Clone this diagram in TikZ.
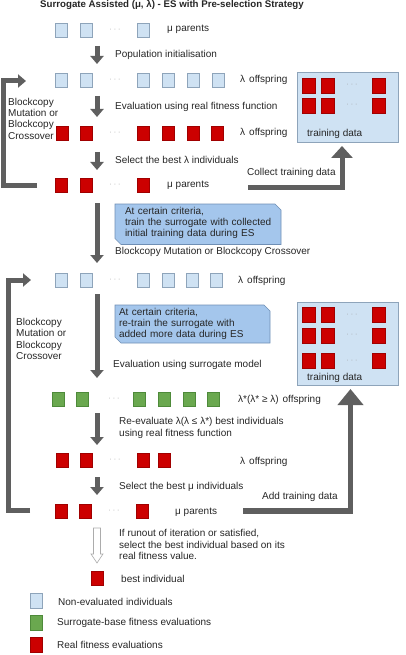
\documentclass[tikz,border=0pt]{standalone}
\usepackage{fontspec}
\setmainfont{Liberation Sans}
\usetikzlibrary{arrows.meta,backgrounds}
\definecolor{lb}{HTML}{CFE2F3}
\definecolor{lbb}{HTML}{8EA4BA}
\definecolor{rd}{HTML}{CC0000}
\definecolor{rdb}{HTML}{A00000}
\definecolor{gn}{HTML}{6AA84F}
\definecolor{gnb}{HTML}{4E8A3A}
\definecolor{ag}{HTML}{5F5F5F}
\definecolor{cb}{HTML}{A4C6EC}
\definecolor{cbb}{HTML}{6F8FB5}
\definecolor{tx}{HTML}{262626}
\begin{document}
\begin{tikzpicture}[x=1pt,y=-1pt,
  font=\fontsize{10}{11.3}\selectfont,
  sq/.style={minimum width=12pt,minimum height=14pt,inner sep=0pt,line width=0.6pt},
  nev/.style={sq,fill=lb,draw=lbb},
  rev/.style={sq,fill=rd,draw=rdb},
  sev/.style={sq,fill=gn,draw=gnb},
  tsq/.style={rev,minimum width=13pt,minimum height=15pt},
  lsq/.style={minimum width=12pt,minimum height=15pt,inner sep=0pt,line width=0.6pt},
  dts/.style={text=gray!75,font=\fontsize{7}{7}\selectfont,inner sep=0pt},
  lbl/.style={anchor=west,inner sep=0pt,text=tx,align=left},
  flow/.style={draw=ag,line width=5pt,-{Triangle[length=8pt,width=13pt]}},
  loopar/.style={draw=ag,line width=5pt,-{Triangle[length=8pt,width=13pt]}},
  tdbox/.style={fill=lb,draw=lbb,line width=0.7pt,minimum width=101pt,inner sep=0pt},
  callout/.style={fill=cb,draw=cbb,line width=0.6pt},
  ctext/.style={inner sep=0pt,text=tx,align=left,text width=150pt},
]
\useasboundingbox (0,0) rectangle (406,655);

% title
\node[inner sep=0pt,text=tx,font=\fontsize{9.7}{11}\selectfont\bfseries] (title) at (172,5)
  {Surrogate Assisted (μ, λ) - ES with Pre-selection Strategy};

% row 1: mu parents (non-evaluated)
\foreach \x [count=\i] in {61,86,143} \node[nev] (ra\i) at (\x,30) {};
\node[dts] (rad) at (115,30) {· · ·};
\node[lbl] (ta) at (167,29) {μ parents};

% row 2: lambda offspring (non-evaluated)
\foreach \x [count=\i] in {61,86,143,168,193,218} \node[nev] (rb\i) at (\x,80) {};
\node[dts] (rbd) at (115,80) {· · ·};
\node[lbl] (tb) at (240,80) {λ\hspace{4pt}offspring};

% row 3: lambda offspring (evaluated)
\foreach \x [count=\i] in {62,86,143.5,168,193,217} \node[rev] (rc\i) at (\x,133.5) {};
\node[dts] (rcd) at (115,133.5) {· · ·};
\node[lbl] (tc) at (240,133) {λ\hspace{4pt}offspring};

% row 4: mu parents (evaluated)
\foreach \x [count=\i] in {61,86,143} \node[rev] (rd\i) at (\x,185) {};
\node[dts] (rdd) at (115,185) {· · ·};
\node[lbl] (td) at (167,185) {μ parents};

% row 5
\foreach \x [count=\i] in {61,86,143,168,192,216} \node[nev] (re\i) at (\x,280.5) {};
\node[dts] (red) at (115,280.5) {· · ·};
\node[lbl] (te) at (238,281) {λ\hspace{4pt}offspring};

% row 6 (surrogate)
\foreach \x [count=\i] in {58,82.5,139,164,189,213} \node[sev] (rf\i) at (\x,399.5) {};
\node[dts] (rfd) at (114,399.5) {· · ·};
\node[lbl] (tf) at (238,400) {λ*(λ* ≥ λ)\hspace{4pt}offspring};

% row 7
\foreach \x [count=\i] in {62,86,143,164} \node[rev] (rg\i) at (\x,460.5) {};
\node[dts] (rgd) at (115,460.5) {· · ·};
\node[lbl] (tg) at (240,462) {λ\hspace{4pt}offspring};

% row 8
\foreach \x [count=\i] in {61,85,142} \node[rev] (rh\i) at (\x,511) {};
\node[dts] (rhd) at (114,511) {· · ·};
\node[lbl] (th) at (175,512) {μ parents};

% step labels
\node[lbl] (s1) at (115,55) {Population initialisation};
\node[lbl] (s2) at (115,107) {Evaluation using real fitness function};
\node[lbl] (s3) at (115,160) {Select the best λ individuals};
\node[lbl] (s4) at (115,252) {Blockcopy Mutation or Blockcopy Crossover};
\node[lbl] (s5) at (113,365) {Evaluation using surrogate model};
\node[lbl] (s6) at (119,428) {Re-evaluate λ(λ ≤ λ*) best individuals\\using real fitness function};
\node[lbl] (s7) at (119,487) {Select the best μ individuals};
\node[lbl] (s8) at (119,544.5) {If runout of iteration or satisfied,\\select the best individual based on its\\real fitness value.};
\node[lbl] (ctd) at (247,173) {Collect training data};
\node[lbl] (atd) at (262,497) {Add training data};
\node[lbl] (lp1) at (8,118.5) {Blockcopy\\Mutation or\\Blockcopy\\Crossover};
\node[lbl] (lp2) at (16,339) {Blockcopy\\Mutation or\\Blockcopy\\Crossover};

% callouts
\node[ctext] (c1) at (200,223) {At certain criteria,\\train the surrogate with collected\\initial training data during ES};
\node[ctext] (c2) at (194,324) {At certain criteria,\\re-train the surrogate with\\added more data during ES};
\begin{scope}[on background layer]
  \draw[callout] (115,204) -- (275,204) -- (281,210) -- (281,244.5) -- (121,244.5) -- (115,238.5) -- cycle;
  \draw[callout] (115,305) -- (264,305) -- (270,311) -- (270,343) -- (121,343) -- (115,337) -- cycle;
\end{scope}

% training data boxes
\node[tdbox,minimum height=70pt] (tdA) at (347.5,107) {};
\foreach \y [count=\j] in {85.5,105.5} {
  \foreach \x [count=\i] in {308.5,328,379} \node[tsq] (tA\j\i) at (\x,\y) {};
  \node[dts] (tAd\j) at (352,\y) {· · ·};
}
\node[lbl] (tAl) at (307,134) {training data};

\node[tdbox,minimum height=83pt] (tdB) at (347.5,343.5) {};
\foreach \y [count=\j] in {315,335.5,361} {
  \foreach \x [count=\i] in {308.5,328,379} \node[tsq] (tB\j\i) at (\x,\y) {};
  \node[dts] (tBd\j) at (352,\y) {· · ·};
}
\node[lbl] (tBl) at (307,378) {training data};

% down arrows
\coordinate (a1s) at (97,46);   \coordinate (a1e) at (97,64);
\coordinate (a2s) at (97,96);   \coordinate (a2e) at (97,117);
\coordinate (a3s) at (97,152);  \coordinate (a3e) at (97,170);
\coordinate (a4s) at (97,203);  \coordinate (a4e) at (97,263);
\coordinate (a5s) at (97,294);  \coordinate (a5e) at (97,378);
\coordinate (a6s) at (97,413);  \coordinate (a6e) at (97,445);
\coordinate (a7s) at (97,477);  \coordinate (a7e) at (97,495);
\foreach \k in {1,...,7} \draw[flow] (a\k s) -- (a\k e);

% loops
\coordinate (l1s) at (37,185); \coordinate (l1e) at (26,81);
\draw[loopar] (l1s) -- (3,185) -- (3,81) -- (l1e);
\coordinate (l2s) at (30,510); \coordinate (l2e) at (31,280);
\draw[loopar] (l2s) -- (8,510) -- (8,280) -- (l2e);

% training data arrows
\coordinate (c1s) at (248,187.5); \coordinate (c1e) at (342,146);
\draw[draw=ag,line width=5pt,-{Triangle[length=12pt,width=21pt]}] (c1s) -- (342,187.5) -- (c1e);
\coordinate (c2s) at (243,511); \coordinate (c2e) at (350.5,389);
\draw[draw=ag,line width=5.5pt,-{Triangle[length=16pt,width=25pt]}] (c2s) -- (350.5,511) -- (c2e);

% hollow arrow
\draw[draw=gray!65,fill=white,line width=0.6pt] (93.5,528) -- (100.5,528) -- (100.5,554) -- (103,554) -- (97,563) -- (91,554) -- (93.5,554) -- cycle;

% best individual
\node[rev] (best) at (97,578) {};
\node[lbl] (bestl) at (121,579) {best individual};

% legend
\node[lsq,fill=lb,draw=lbb] (lg1) at (36,600.5) {};
\node[lbl] (lg1t) at (58,602) {Non-evaluated individuals};
\node[lsq,fill=gn,draw=gnb] (lg2) at (36,622.5) {};
\node[lbl] (lg2t) at (57,622.5) {Surrogate-base fitness evaluations};
\node[lsq,fill=rd,draw=rdb] (lg3) at (36,644.5) {};
\node[lbl] (lg3t) at (57,645) {Real fitness evaluations};
\end{tikzpicture}
\end{document}
